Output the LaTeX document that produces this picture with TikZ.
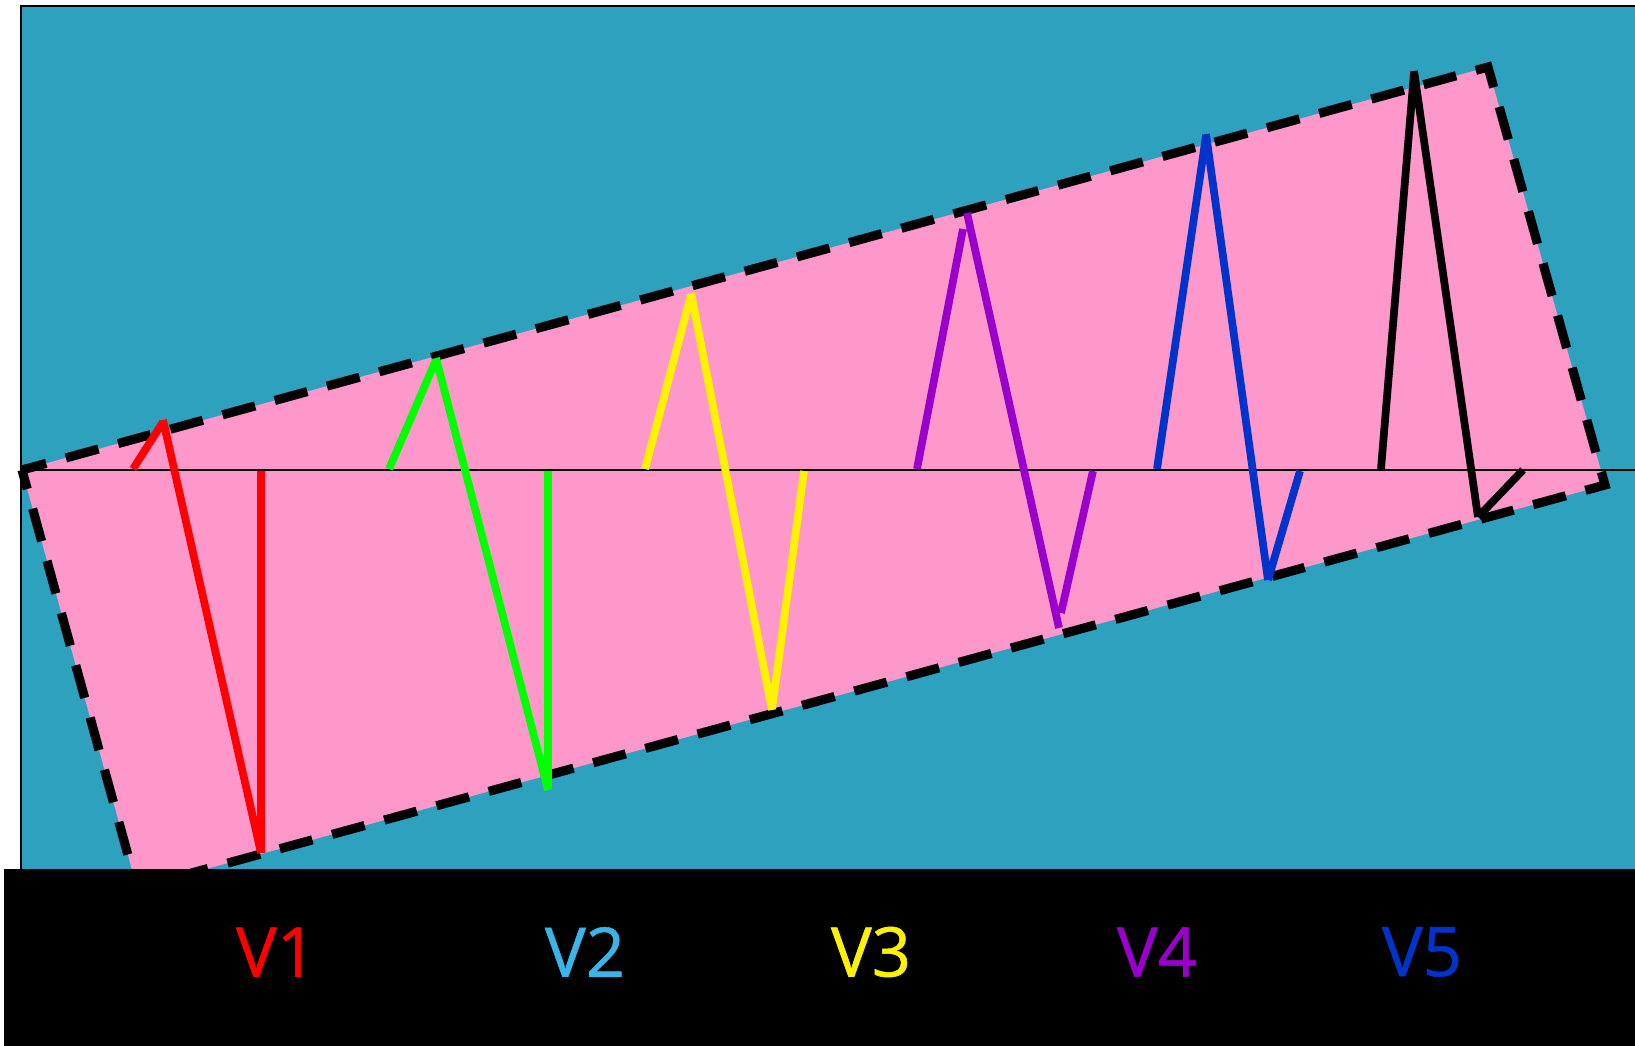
\documentclass[tikz,border=0pt]{standalone}
\usepackage{fontspec}
\setmainfont{Open Sans}
\newfontfamily\tagfont{Open Sans}[FakeBold=0.8]
\usepackage{xcolor}
\definecolor{sea}{RGB}{46,161,191}
\definecolor{rose}{RGB}{255,152,202}
\definecolor{sky}{RGB}{59,181,231}
\definecolor{violet}{RGB}{153,0,204}
\definecolor{royal}{RGB}{0,51,204}

\tikzset{
  zig/.style={line width=2.2pt, line cap=butt},
  rim/.style={line width=2.6pt, dash pattern=on 9.6pt off 5.8pt, dash phase=4pt},
  tag/.style={font=\tagfont\fontsize{19.5}{23}\selectfont, inner sep=0pt}
}

\begin{document}
\begin{tikzpicture}[x=0.01cm, y=-0.01cm]
  \useasboundingbox (0,0) rectangle (1635,1046);
  % sfondo
  \draw[fill=sea, line width=0.6pt] (21,6) rectangle (1660,1060);
  % fascia ruotata
  \fill[rose] (22,470) -- (137,888) -- (1605,485) -- (1488,67) -- cycle;
  \draw[rim] (22,470) -- (137,888) -- (1605,485) -- (1488,67) -- cycle;
  \draw[line width=0.6pt] (21,470) -- (1635,470);
  % zig-zag
  \draw[zig, red]    (133,469) -- (163,422)  (163,420) -- (261,853)  (261,853) -- (261,471);
  \draw[zig, green]  (389,469) -- (436,360)  (436,358) -- (548,790)  (548,787) -- (548,471);
  \draw[zig, yellow] (645,469) -- (691,295)  (691,293) -- (772,710)  (772,709) -- (804,471);
  \draw[zig, violet] (917,469) -- (963,229)  (967,213) -- (1059,628) (1061,613) -- (1093,471);
  \draw[zig, royal]  (1157,469) -- (1206,136) (1206,134) -- (1268,580) (1268,580) -- (1300,471);
  \draw[zig, black]  (1381,469) -- (1414,73) (1414,71) -- (1478,517) (1478,517) -- (1523,470);
  % fascia nera con etichette
  \fill[black] (4,869) rectangle (1635,1046);
  \node[tag, text=red]    (v1) at (276,952)  {V1};
  \node[tag, text=sky]    (v2) at (585,952)  {V2};
  \node[tag, text=yellow] (v3) at (871,952)  {V3};
  \node[tag, text=violet] (v4) at (1157,952) {V4};
  \node[tag, text=royal]  (v5) at (1422,952) {V5};
\end{tikzpicture}
\end{document}
